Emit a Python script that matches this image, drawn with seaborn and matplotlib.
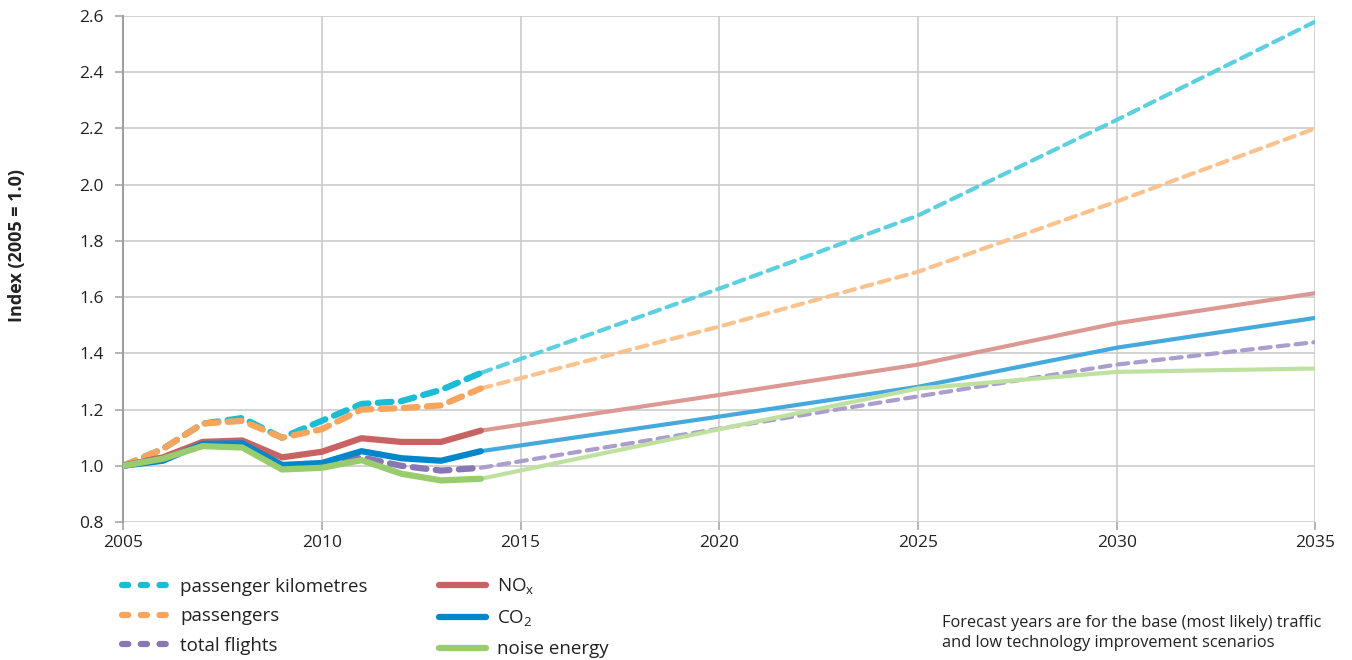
import numpy as np
import pandas as pd
import matplotlib
matplotlib.use("Agg")
import matplotlib.pyplot as plt
from matplotlib.lines import Line2D
import seaborn as sns

# historical years and forecast years (forecast starts from last actual year)
hist_years = list(range(2005, 2015))
fc_years = [2014, 2020, 2025, 2030, 2035]

pkm_hist = [1.00, 1.06, 1.15, 1.17, 1.10, 1.16, 1.22, 1.23, 1.27, 1.33]
pkm_fc = [1.33, 1.63, 1.89, 2.23, 2.58]

pax_hist = [1.00, 1.06, 1.15, 1.16, 1.10, 1.13, 1.20, 1.205, 1.215, 1.275]
pax_fc = [1.275, 1.495, 1.69, 1.94, 2.20]

flights_hist = [1.00, 1.03, 1.08, 1.08, 1.00, 1.005, 1.03, 1.00, 0.983, 0.993]
flights_fc = [0.993, 1.132, 1.247, 1.36, 1.44]

nox_hist = [1.00, 1.03, 1.085, 1.09, 1.03, 1.05, 1.098, 1.085, 1.085, 1.125]
nox_fc = [1.125, 1.252, 1.36, 1.507, 1.614]

co2_hist = [1.00, 1.018, 1.078, 1.08, 1.003, 1.01, 1.052, 1.027, 1.018, 1.052]
co2_fc = [1.052, 1.175, 1.281, 1.42, 1.526]

noise_hist = [1.00, 1.025, 1.07, 1.065, 0.987, 0.993, 1.02, 0.972, 0.948, 0.954]
noise_fc = [0.954, 1.13, 1.275, 1.334, 1.346]

labels = ["passenger kilometres", "passengers", "total flights",
          "NO$_\\mathregular{x}$", "CO$_\\mathregular{2}$", "noise energy"]

series = [
    (labels[0], pkm_hist, pkm_fc, "#1bbcd6", "#5ccfe0", True),
    (labels[1], pax_hist, pax_fc, "#f7a45c", "#fbc28e", True),
    (labels[2], flights_hist, flights_fc, "#8877b4", "#ab9ecc", True),
    (labels[3], nox_hist, nox_fc, "#c96363", "#dc9893", False),
    (labels[4], co2_hist, co2_fc, "#0087cb", "#46a9de", False),
    (labels[5], noise_hist, noise_fc, "#98cc6c", "#bfe1a0", False),
]

sns.set_theme(style="white")
plt.rcParams["font.family"] = ["Open Sans", "DejaVu Sans"]
plt.rcParams["mathtext.fontset"] = "custom"
plt.rcParams["mathtext.rm"] = "Open Sans"

fig = plt.figure(figsize=(13.52, 6.6), dpi=100)
ax = fig.add_axes([0.091, 0.209, 0.882, 0.767])

handles = []
for name, hist, fc, c_hist, c_fc, dashed in series:
    # forecast first so actual data sits on top
    sns.lineplot(x=fc_years, y=fc, ax=ax, color=c_fc, lw=3.0, zorder=3)
    line = ax.get_lines()[-1]
    if dashed:
        line.set_dashes((2.6, 1.7))
        line.set_dash_capstyle("round")
    sns.lineplot(x=hist_years, y=hist, ax=ax, color=c_hist, lw=4.5, zorder=4)
    line = ax.get_lines()[-1]
    if dashed:
        line.set_dashes((2.2, 1.5))
        line.set_dash_capstyle("round")
    line.set_solid_capstyle("round")
    h = Line2D([], [], color=c_hist, lw=4.5,
               linestyle=(0, (1.0, 2.0)) if dashed else "-",
               dash_capstyle="round", solid_capstyle="round")
    handles.append(h)

ax.set_xlim(2005, 2035)
ax.set_ylim(0.8, 2.6)
ax.set_xticks(range(2005, 2036, 5))
ax.set_yticks(np.arange(0.8, 2.61, 0.2))
ax.set_yticklabels([f"{v:.1f}" for v in np.arange(0.8, 2.61, 0.2)])
ax.grid(True, color="#c8c8c8", lw=1.1)
ax.set_axisbelow(True)
for s in ["top", "right", "bottom"]:
    ax.spines[s].set_visible(False)
ax.spines["left"].set_color("#a0a0a0")
ax.spines["left"].set_linewidth(1.5)
ax.tick_params(axis="both", which="both", length=6, width=1.1, color="#a0a0a0",
               labelsize=12.5, labelcolor="#222222", left=True, bottom=True)
ax.tick_params(axis="y", pad=8)
ax.tick_params(axis="x", pad=3)
ax.set_xlabel("")
ax.set_ylabel("Index (2005 = 1.0)", fontsize=13, fontweight="bold",
              color="#222222")
ax.yaxis.set_label_coords(-0.081, 0.547)

# legend order: column 1 dashed, column 2 solid
fig.legend(handles, labels, loc="upper left", bbox_to_anchor=(0.078, 0.152),
           ncol=2, frameon=False, fontsize=13.5, handlelength=2.5,
           handletextpad=0.6, columnspacing=3.8, labelspacing=0.62,
           labelcolor="#222222")

fig.text(0.697, 0.041, "Forecast years are for the base (most likely) traffic\n"
         "and low technology improvement scenarios",
         fontsize=11.8, color="#222222", va="center", ha="left", linespacing=1.35)

fig.savefig("out.png", dpi=100)
